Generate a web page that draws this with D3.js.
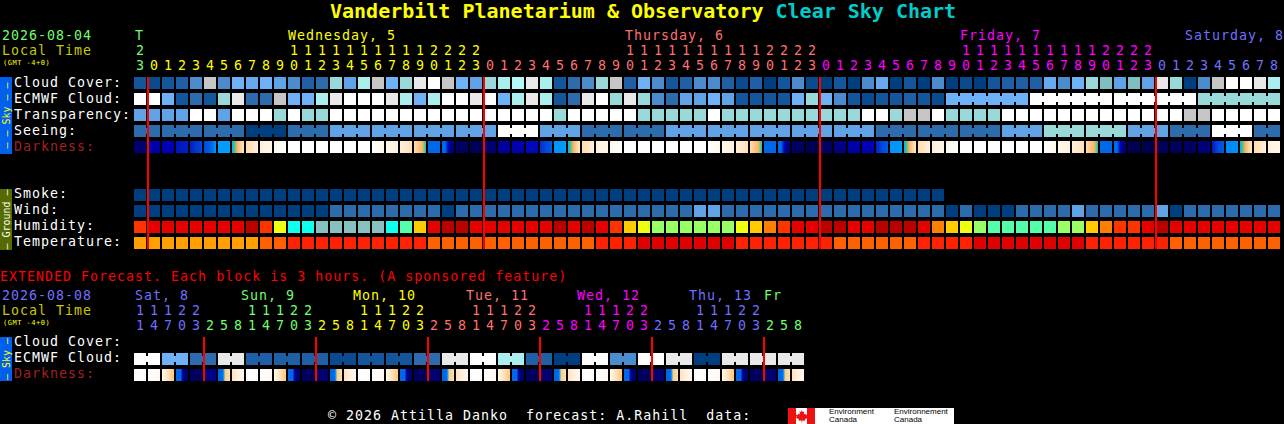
<!DOCTYPE html>
<html>
<head>
<meta charset="utf-8">
<script src="https://cdn.jsdelivr.net/npm/d3@7/dist/d3.min.js"></script>
<style>
html,body{margin:0;padding:0;background:#000;overflow:hidden}
svg{display:block}
text{font-family:"DejaVu Sans Mono",monospace;white-space:pre}
</style>
</head>
<body>
<svg id="chart" width="1284" height="424"></svg>
<script>
// ---------- DATA ----------
const hourOnes = [3,0,1,2,3,4,5,6,7,8,9,0,1,2,3,4,5,6,7,8,9,0,1,2,3,
  0,1,2,3,4,5,6,7,8,9,0,1,2,3,4,5,6,7,8,9,0,1,2,3,
  0,1,2,3,4,5,6,7,8,9,0,1,2,3,4,5,6,7,8,9,0,1,2,3,
  0,1,2,3,4,5,6,7,8];
const hourTens = ["2","","","","","","","","","","","1","1","1","1","1","1","1","1","1","1","2","2","2","2",
  "","","","","","","","","","","1","1","1","1","1","1","1","1","1","1","2","2","2","2",
  "","","","","","","","","","","1","1","1","1","1","1","1","1","1","1","2","2","2","2",
  "","","","","","","","",""];
const hourDays = ["Tue",
  "Wed","Wed","Wed","Wed","Wed","Wed","Wed","Wed","Wed","Wed","Wed","Wed","Wed","Wed","Wed","Wed","Wed","Wed","Wed","Wed","Wed","Wed","Wed","Wed",
  "Thu","Thu","Thu","Thu","Thu","Thu","Thu","Thu","Thu","Thu","Thu","Thu","Thu","Thu","Thu","Thu","Thu","Thu","Thu","Thu","Thu","Thu","Thu","Thu",
  "Fri","Fri","Fri","Fri","Fri","Fri","Fri","Fri","Fri","Fri","Fri","Fri","Fri","Fri","Fri","Fri","Fri","Fri","Fri","Fri","Fri","Fri","Fri","Fri",
  "Sat","Sat","Sat","Sat","Sat","Sat","Sat","Sat","Sat"];
const dayHeadings = [["T",135,"Tue"],["Wednesday, 5",288,"Wed"],["Thursday, 6",625,"Thu"],["Friday, 7",960,"Fri"],["Saturday, 8",1185,"Sat"]];

// Sky conditions: 0 = overcast/poor ... 10 = clear/excellent
const cloudCover = [1,0.5,1,1.5,3,8,3,5,4.5,5, 4,3,1.5,2,6,4,7,8,5,6,
  9,10,8,5,4,6,7,7.5,9,7, 1,2,3,6,8,1.5,5,3,1,1.5,
  3,3,1.5,0.5,1.5,0,1,3,0.5,0, 1,0,3,4.5,0,1,0,3,0,0.5,
  0,1,1.5,1.5,1.5,4.5,3,5,6,5.5, 4,5.5,4,9,6,0,3,8,10,10, 9,7];
const ecmwfCloud = [10,10,5,1,2,1,6,9,2,2, 8,5,5,7,9,10,10,10,9,7,
  5,7,10,10,9,10,5,7,9,7, 1,2,9,10,6,9,6,3,2,4,
  4,5,4,1,1,1,1,5,6,5, 3,1,0.5,1,1,1.5,1,0.5,5,5,
  5,5,5,5,10,10,10,10,10,10, 10,10,10,10,10,10,6,6,6,6, 6,6];
const ecmwfSpans = [1,1,1,1,1,1,1,1,1,1,1,1,1,1,1,1,1,1,1,1,1,1,1,1,1,1,1,1,1,
  1,1,1,1,1,1,1,1,1,1,1,1,1,1,1,1,1,1,1,1,1,1,1,1,1,1,1,1,1,6,6,6,6];
const transparency = [4,4,4,4,10,10,4,10,10,10, 6,10,6,6,10,10,10,10,10,10,
  10,10,10,10,10,10,10,10,10,10, 6,10,10,10,10,10,6,6,6,6,
  6,10,6,6,6,6,6,6,6,6, 6,6,10,10,6,8,8,10,6,6,
  6,6,10,10,10,10,10,10,10,10, 10,10,10,10,10,8,8,10,10,10, 10,10];
const seeingBlockSpans = [2,3,3,3,3,3,3,3,3,3,3,3,3,3,3,3,3,3,3,3,3,3,3,3,3,3,3,2];
const seeingValues = [2,2,2,0,2,4,4,4,4,10,4,2,2,4,4,4,4,4,2,2,2,4,6,6,4,2,10,2];

// Darkness: sky-brightness index sampled evenly across each block
const darkness = [
 [1,1],[2.5,2.5],[3,3],[3.6,4],[4,4.5,5],[5,5.5,6,7],[7,7],[7.6,8.6,9.5,10.5],[10,10.5,11],[11,11.5],
 [11.5,12],[12,12],[12,12],[12,12],[12,12],[12,12],[12,12],[12,11.5],[11.5,11],[11,10.2],
 [10,9.5,9,8],[6,6],[6,6,3.5,1.5,1],[0.5,0.5],[0.2,0.2],[1,1],[2,2],[2.7,2.7],[3.2,3.2],[4.4,5,5.5],
 [6.8,7],[7.6,8.6,9.5,10.5],[10,10.5,11],[11,11.5],[11.5,12],[12,12],[12,12],[12,12],[12,12],[12,12],
 [12,12],[12,11.5],[11.5,11],[11,10.2],[10,9.5,9,8],[6,6],[6,6,3.5,1.5,1],[0.5,0.5],[0,0],[0.5,0.5],
 [1.5,1.5],[2.5,2.5],[3,3],[4,5,5.5],[6.8,7],[7.6,8.6,9.5,10.5],[10,10.5,11],[11,11.5],[11.5,12],[12,12],
 [12,12],[12,12],[12,12],[12,12],[12,12],[12,11.5],[11.5,11],[11,10.2],[10,9.5,9,8],[6,6],
 [6,6,3.5,1.5,1],[0,0],[0,0],[0.3,0.3],[0.3,0.3],[0.5,0.5],[1.2,1.2],[3.8,5,5.5],[6.6,6.8],[7.6,8.6,9.5,10.5],
 [10,10.5,11],[11,11.5]];

const smoke = [0,0,0,0,0,0,0,0,0,0, 0,0,0,0,0,0,0,0,0,0, 0,0,0,0,0,0,0,0,0,0,
  0,0,0,0,0,0,0,0,0,0, 0,0,0,0,0,0,0,0,0,0, 0,0,0,0,0,0,0,0];
const wind = [0,0,0,0,0,0,0,0,0,0, 0,0,0,0,2,2,2,2,2,2,
  2,2,0,2,2,2,2,2,2,2, 2,2,2,2,2,2,2,2,2,2,
  4,4,2,2,2,2,2,2,2,2, 2,2,2,2,2,2,2,2,0,2,
  0,0,0,2,2,2,2,4,2,2, 2,2,2,4,0,2,2,2,2,2, 2,2];
// Humidity, percent
const humidity = [87,92,92,92,92,92,92,92,97,87, 72,57,57,52,52,52,52,52,57,62,
  77,92,97,97,92,92,92,92,92,92, 97,92,97,92,87,77,72,67,67,67,
  67,67,67,72,77,82,87,92,92,97, 97,92,92,97,97,97,92,82,77,72,
  67,62,62,62,62,62,67,67,77,82, 87,87,92,97,92,92,92,92,92,92, 92,92];
// Temperature, degrees C
const temperature = [18,18,18,18,18,18,18,18,18,20, 20,23,23,23,23,23,23,23,23,23,
  23,20,20,20,20,20,20,20,20,20, 20,20,20,23,23,23,26,26,26,26,
  26,26,26,23,23,23,23,23,23,23, 20,20,20,20,20,20,23,23,23,23,
  26,26,26,26,26,26,26,26,23,23, 23,23,23,23,20,20,20,20,20,20, 20,20];

// Extended forecast, one block = 3 hours
const extHourOnes = [1,4,7,0,3,2,5,8,1,4,7,0,3,2,5,8,1,4,7,0,3,2,5,8,1,4,7,0,3,2,5,8,1,4,7,0,3,2,5,8,1,4,7,0,3,2,5,8];
const extHourTens = ["1","1","1","2","2","","","","1","1","1","2","2","","","","1","1","1","2","2","","","",
  "1","1","1","2","2","","","","1","1","1","2","2","","","","1","1","1","2","2","","",""];
const extHourDays = ["Sat","Sat","Sat","Sat","Sat","Sun","Sun","Sun","Sun","Sun","Sun","Sun","Sun",
  "Mon","Mon","Mon","Mon","Mon","Mon","Mon","Mon","Tue","Tue","Tue","Tue","Tue","Tue","Tue","Tue",
  "Wed","Wed","Wed","Wed","Wed","Wed","Wed","Wed","Thu","Thu","Thu","Thu","Thu","Thu","Thu","Thu","Fr","Fr","Fr"];
const extDayHeadings = [["Sat, 8",135,"Sat"],["Sun, 9",241,"Sun"],["Mon, 10",353,"Mon"],["Tue, 11",466,"Tue"],["Wed, 12",577,"Wed"],["Thu, 13",689,"Thu"],["Fr",764,"Fr"]];
const extEcmwf = [10,10,5,5,2,2,9,9,1.5,1.5, 1.5,1.5,1.5,1.5,0.5,0.5,1,1,1,1,
  2,2,9,9,10,10,7,7,1.5,1.5, 0,0,10,10,3,3,10,10,9,9,
  0,0,9,9,9,9,9,9];
const extEcmwfSpans = [2,2,2,2,2,2,2,2,2,2,2,2,2,2,2,2,2,2,2,2,2,2,2,2];
const extDarkness = [
 [12,12],[12,11.6],[11.4,11,10.5,10,9.6,9.4],[6,6,6,1.5,1,1],[0.5,0.5],[1,2],[6,6,6,9.6,9.8,10],[10.3,11,11.6],
 [12,12],[12,11.6],[11.4,11,10.5,10,9.6,9.4],[6,6,6,1.5,1,1],[0.5,0.5],[0.7,1.3],[6,6,6,9.6,9.8,10],[10.3,11,11.6],
 [12,12],[12,11.6],[11.4,11,10.5,10,9.6,9.4],[6,6,6,1.5,1,1],[0.5,0.5],[0.7,1.3],[6,6,6,9.6,9.8,10],[10.3,11,11.6],
 [12,12],[12,11.6],[11.4,11,10.5,10,9.6,9.4],[6,6,6,1.5,1,1],[0.5,0.5],[0.7,1.3],[6,6,6,9.6,9.8,10],[10.3,11,11.6],
 [12,12],[12,11.6],[11.4,11,10.5,10,9.6,9.4],[6,6,6,1.5,1,1],[0.5,0.5],[0.7,1.3],[6,6,6,9.6,9.8,10],[10.3,11,11.6],
 [12,12],[12,11.6],[11.4,11,10.5,10,9.6,9.4],[6,6,6,1.5,1,1],[0.5,0.5],[0.7,1.3],[6,6,6,9.6,9.8,10],[10.3,11,11.6]];

// ---------- SCALES ----------
const skyColour = d3.scaleOrdinal()
  .domain([0,0.5,1,1.5,2,3,4,4.5,5,5.5,6,7,7.5,8,9,10])
  .range(["#003f7f","#0a4a8e","#13569b","#1e5fa5","#2c6cad","#4b8ccf","#5fa2e6","#67a9ee","#6eb1f7",
          "#7fbfbf","#99d9d9","#aaeeee","#b6f7f7","#c6c6c6","#e9e9e9","#ffffff"]);
const darknessColour = d3.scaleLinear()
  .domain([0,1,2,3,4,5,6,7,8,9,10,11,12])
  .range(["#000050","#000070","#00009a","#0000b8","#0020c4","#0048dc","#0068e8","#009cff","#20c0b0",
          "#ffb860","#ffdcae","#fff0dc","#ffffff"]);
const humidityColour = d3.scaleThreshold()
  .domain([55,60,65,70,75,80,85,90,95])
  .range(["#88bfbf","#11ffee","#55ffaa","#99ff66","#eeff11","#ffcc00","#ff8000","#ff3300","#e60000","#bb0000"]);
const temperatureColour = d3.scaleThreshold()
  .domain([19,22,25])
  .range(["#ffa000","#ff6000","#ff2200","#e00000"]);
const dayColour = d3.scaleOrdinal()
  .domain(["Tue","Wed","Thu","Fri","Sat"])
  .range(["#70ff70","#ffff00","#ff7070","#ff00ff","#7070ff"]);
const extDayColour = d3.scaleOrdinal()
  .domain(["Sat","Sun","Mon","Tue","Wed","Thu","Fr"])
  .range(["#7070ff","#70ff70","#ffff00","#ff7070","#ff00ff","#7070ff","#70ff70"]);

const xMain = d3.scaleBand().domain(d3.range(82)).range([134,1280]).paddingInner(1/7);
const xExt  = d3.scaleBand().domain(d3.range(48)).range([134,804]).paddingInner(1/7);
const CELL = 12;
const FONT = 13.3;

// ---------- DRAWING ----------
const svg = d3.select("#chart");
svg.append("rect").attr("width",1284).attr("height",424).attr("fill","#000");

function label(t,x,y,fill){
  return svg.append("text").attr("x",x).attr("y",y).attr("fill",fill)
    .attr("font-size",FONT).attr("letter-spacing",1).text(t);
}
function smallLabel(t,x,y,fill){
  return svg.append("text").attr("x",x).attr("y",y).attr("fill",fill)
    .attr("font-size",7).attr("letter-spacing",0.5).text(t);
}
function fillRow(x,values,y,colour){
  svg.append("g").selectAll("rect").data(values).join("rect")
    .attr("x",(d,i)=>x(i)).attr("y",y).attr("width",x.bandwidth()).attr("height",CELL)
    .attr("fill",d=>colour(d));
}
function connectors(x,values,y,spans,colour){
  let start=0; const links=[];
  spans.forEach(s=>{ for(let i=start;i<start+s-1;i++) links.push(i); start+=s; });
  svg.append("g").selectAll("rect").data(links).join("rect")
    .attr("x",i=>x(i)+x.bandwidth()).attr("y",y+3).attr("width",x.step()-x.bandwidth()).attr("height",CELL-6)
    .attr("fill",i=>colour(values[i]));
}
function darkRow(x,values,y){
  const g=svg.append("g").attr("shape-rendering","crispEdges");
  values.forEach((samples,i)=>{
    const f=d3.piecewise(d3.interpolateNumber,samples);
    const n=Math.round(x.bandwidth());
    g.append("g").selectAll("rect").data(d3.range(n)).join("rect")
      .attr("x",k=>Math.round(x(i))+k).attr("y",y).attr("width",1).attr("height",CELL)
      .attr("fill",k=>darknessColour(f((k+0.5)/n)));
  });
}
function hourAxis(x,labels,days,colour,y){
  const shown=d3.range(labels.length).filter(i=>labels[i]!=="");
  const axis=d3.axisTop(x).tickValues(shown).tickSize(0).tickPadding(0).offset(0)
    .tickFormat(i=>labels[i]);
  const g=svg.append("g").attr("transform",`translate(0,${y})`).call(axis);
  g.select(".domain").remove();
  g.attr("font-size",FONT).attr("font-family",'"DejaVu Sans Mono",monospace');
  g.selectAll(".tick text").attr("fill",i=>colour(days[i]));
}

// Title
const title=svg.append("text").attr("x",330).attr("y",18).attr("font-size",20).attr("font-weight","bold");
title.append("tspan").attr("fill","#ffff00").text("Vanderbilt Planetarium & Observatory ");
title.append("tspan").attr("fill","#00cccc").text("Clear Sky Chart");

// Main header
label("2026-08-04",2,40,"#70ff70");
label("Local Time",2,54.5,"#c8c800");
smallLabel("(GMT -4+0)",3,65,"#ffff00");
dayHeadings.forEach(([t,x,d])=>label(t,x,40,dayColour(d)));
hourAxis(xMain,hourTens,hourDays,dayColour,54.5);
hourAxis(xMain,hourOnes.map(String),hourDays,dayColour,70);

// Category bars
const bars=[[77,77,"#0060ee","– – Sky – –","#ffff00"],[189,61,"#556b00","– Ground –","#ffffff"],[337,44,"#0060ee","– Sky –","#ffff00"]];
bars.forEach(([y,h,fill,t,tc])=>{
  svg.append("rect").attr("x",0).attr("y",y).attr("width",12).attr("height",h).attr("fill",fill);
  svg.append("text").attr("transform",`translate(9.5,${y+h/2}) rotate(-90)`).attr("text-anchor","middle")
    .attr("font-size",10).attr("fill",tc).text(t);
});

// Row labels
[["Cloud Cover:",87,"#fff"],["ECMWF Cloud:",103,"#fff"],["Transparency:",119,"#fff"],["Seeing:",135,"#fff"],["Darkness:",151,"#a02020"],
 ["Smoke:",198,"#fff"],["Wind:",214,"#fff"],["Humidity:",230,"#fff"],["Temperature:",246,"#fff"],
 ["Cloud Cover:",346,"#fff"],["ECMWF Cloud:",362,"#fff"],["Darkness:",378,"#a02020"]]
 .forEach(([t,y,c])=>label(t,14,y,c));

// Main rows
const seeingPerBlock=seeingValues.flatMap((v,b)=>d3.range(seeingBlockSpans[b]).map(()=>v));
fillRow(xMain,cloudCover,77,skyColour);
fillRow(xMain,ecmwfCloud,93,skyColour);
connectors(xMain,ecmwfCloud,93,ecmwfSpans,skyColour);
fillRow(xMain,transparency,109,skyColour);
fillRow(xMain,seeingPerBlock,125,skyColour);
connectors(xMain,seeingPerBlock,125,seeingBlockSpans,skyColour);
darkRow(xMain,darkness,141);
fillRow(xMain,smoke,189,skyColour);
fillRow(xMain,wind,205,skyColour);
fillRow(xMain,humidity,221,humidityColour);
fillRow(xMain,temperature,237,temperatureColour);

// Midnight lines
[1,25,49,73].forEach(i=>svg.append("rect").attr("x",xMain(i)-1).attr("y",77).attr("width",2).attr("height",172).attr("fill","#ff0000"));

// Extended
label("EXTENDED Forecast. Each block is 3 hours. (A sponsored feature)",0,281,"#ff0000");
label("2026-08-08",2,300,"#7070ff");
label("Local Time",2,314.5,"#c8c800");
smallLabel("(GMT -4+0)",3,325,"#ffff00");
extDayHeadings.forEach(([t,x,d])=>label(t,x,300,extDayColour(d)));
hourAxis(xExt,extHourTens,extHourDays,extDayColour,314.5);
hourAxis(xExt,extHourOnes.map(String),extHourDays,extDayColour,330);
fillRow(xExt,extEcmwf,353,skyColour);
connectors(xExt,extEcmwf,353,extEcmwfSpans,skyColour);
darkRow(xExt,extDarkness,369);
[5,13,21,29,37,45].forEach(i=>svg.append("rect").attr("x",xExt(i)-1).attr("y",337).attr("width",2).attr("height",44).attr("fill","#ff0000"));

// Footer
label("© 2026 Attilla Danko  forecast: A.Rahill  data:",328,420,"#ffffff");
svg.append("rect").attr("x",788).attr("y",408).attr("width",166).attr("height",16).attr("fill","#ffffff");
svg.append("rect").attr("x",788).attr("y",408).attr("width",8).attr("height",16).attr("fill","#ee1111");
svg.append("rect").attr("x",807).attr("y",408).attr("width",8).attr("height",16).attr("fill","#ee1111");
svg.append("path").attr("d","M801.5 410l1.2 2 1.6-.6-.5 3 1.6-.8.6 1.4 2-.4-.7 2.2.7.6-3.2 2.2.4 1.2-3-.4v2h-.6v-2l-3 .4.4-1.2-3.2-2.2.7-.6-.7-2.2 2 .4.6-1.4 1.6.8-.5-3 1.6.6z").attr("fill","#ee1111");
[["Environment",829,414],["Canada",829,422],["Environnement",894,414],["Canada",894,422]]
  .forEach(([t,x,y])=>svg.append("text").attr("x",x).attr("y",y).attr("font-size",8).attr("fill","#000")
     .style("font-family","'Liberation Sans',sans-serif").text(t));
</script>
</body>
</html>
